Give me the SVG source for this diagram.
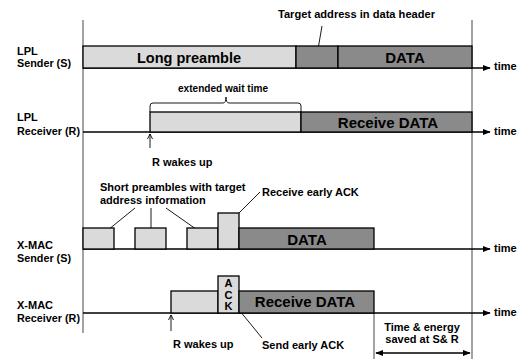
<svg xmlns="http://www.w3.org/2000/svg" width="525" height="359" viewBox="0 0 525 359">
<defs>
<marker id="ah" viewBox="0 0 10 10" refX="9" refY="5" markerWidth="6" markerHeight="6" orient="auto-start-reverse"><path d="M0,1 L10,5 L0,9 Z" fill="#000"/></marker>
<marker id="oa" viewBox="0 0 10 10" refX="9" refY="5" markerWidth="7" markerHeight="7" orient="auto-start-reverse"><path d="M1,1 L9,5 L1,9" fill="none" stroke="#000" stroke-width="1.4"/></marker>
</defs>
<style>
text{font-family:"Liberation Sans",Arial,sans-serif;font-weight:bold;fill:#000}
.lbl{font-size:11px}
.sm{font-size:11px}
.big{font-size:15px}
.mid{font-size:15px}
.light{fill:#dadada;stroke:#000;stroke-width:1.3}
.dark{fill:#8a8a8a;stroke:#000;stroke-width:1.3}
.ax{stroke:#000;stroke-width:1.3;fill:none}
.ptr{stroke:#000;stroke-width:0.9;fill:none}
.vl{stroke:#666;stroke-width:1.2}
</style>
<rect width="525" height="359" fill="#fff"/>
<line class="vl" x1="83" y1="20" x2="83" y2="333"/>
<line class="vl" x1="472" y1="20" x2="472" y2="359"/>
<line class="vl" x1="374" y1="313" x2="374" y2="359"/>

<g id="labels">
<text class="lbl" x="17" y="55">LPL</text>
<text class="lbl" x="17" y="67" textLength="54" lengthAdjust="spacingAndGlyphs">Sender (S)</text>
<text class="lbl" x="17" y="121">LPL</text>
<text class="lbl" x="17" y="135" textLength="63" lengthAdjust="spacingAndGlyphs">Receiver (R)</text>
<text class="lbl" x="17" y="249">X-MAC</text>
<text class="lbl" x="17" y="262" textLength="54" lengthAdjust="spacingAndGlyphs">Sender (S)</text>
<text class="lbl" x="17" y="309">X-MAC</text>
<text class="lbl" x="17" y="322" textLength="63" lengthAdjust="spacingAndGlyphs">Receiver (R)</text>
</g>

<g id="connectors">
<line class="ax" x1="83" y1="68" x2="490" y2="68" marker-end="url(#ah)"/>
<line class="ax" x1="83" y1="132" x2="490" y2="132" marker-end="url(#ah)"/>
<line class="ax" x1="83" y1="249" x2="490" y2="249" marker-end="url(#ah)"/>
<line class="ax" x1="83" y1="313" x2="490" y2="313" marker-end="url(#ah)"/>
<line class="ptr" x1="322" y1="26" x2="317" y2="55"/>
<line class="ptr" x1="135" y1="208" x2="103" y2="234"/>
<line class="ptr" x1="151" y1="208" x2="151" y2="239"/>
<line class="ptr" x1="166" y1="208" x2="203" y2="234"/>
<line class="ptr" x1="260" y1="192" x2="230" y2="222"/>
<line class="ptr" x1="235" y1="305" x2="262" y2="338"/>
<line class="ptr" x1="150" y1="148" x2="150" y2="134" marker-end="url(#oa)"/>
<line class="ptr" x1="171" y1="331" x2="171" y2="315" marker-end="url(#oa)"/>
<line class="ax" x1="376" y1="353" x2="470" y2="353" marker-start="url(#ah)" marker-end="url(#ah)"/>
<path class="ptr" d="M150,112 V106 Q150,103 153,103 H223 Q226,103 226,97 Q226,103 229,103 H298 Q301,103 301,106 V112" stroke-width="1.1"/>
</g>

<g id="lpl-sender">
<rect class="light" x="83" y="46" width="213" height="22"/>
<rect class="dark" x="296" y="46" width="42" height="22"/>
<rect class="dark" x="338" y="46" width="134" height="22"/>
<text class="big" x="137" y="63" textLength="104" lengthAdjust="spacingAndGlyphs">Long preamble</text>
<text class="mid" x="405" y="63" text-anchor="middle">DATA</text>
<text class="sm" x="278" y="18" textLength="157" lengthAdjust="spacingAndGlyphs">Target address in data header</text>
<text class="lbl" x="494" y="70">time</text>
</g>

<g id="lpl-receiver">
<rect class="light" x="150" y="112" width="151" height="20"/>
<rect class="dark" x="301" y="112" width="171" height="20"/>
<text class="mid" x="388" y="128" text-anchor="middle">Receive DATA</text>
<text class="sm" x="178" y="92" textLength="90" lengthAdjust="spacingAndGlyphs">extended wait time</text>
<text class="sm" x="152" y="166">R wakes up</text>
<text class="lbl" x="494" y="135">time</text>
</g>

<g id="xmac-sender">
<rect class="light" x="83" y="228" width="31" height="21"/>
<rect class="light" x="135" y="228" width="31" height="21"/>
<rect class="light" x="187" y="228" width="31" height="21"/>
<rect class="light" x="218" y="213" width="21" height="36"/>
<rect class="dark" x="239" y="228" width="135" height="21"/>
<text class="mid" x="307" y="245" text-anchor="middle">DATA</text>
<text class="sm" x="100" y="191">Short preambles with target</text>
<text class="sm" x="100" y="204">address information</text>
<text class="sm" x="262" y="196">Receive early ACK</text>
<text class="lbl" x="494" y="252">time</text>
</g>

<g id="xmac-receiver">
<rect class="light" x="171" y="291" width="47" height="22"/>
<rect class="light" x="218" y="276" width="21" height="37"/>
<rect class="dark" x="239" y="291" width="135" height="22"/>
<text class="sm" x="228.5" y="287" text-anchor="middle">A</text>
<text class="sm" x="228.5" y="299" text-anchor="middle">C</text>
<text class="sm" x="228.5" y="310" text-anchor="middle">K</text>
<text class="mid" x="305" y="307" text-anchor="middle">Receive DATA</text>
<text class="sm" x="173" y="348">R wakes up</text>
<text class="sm" x="262" y="349">Send early ACK</text>
<text class="sm" x="422" y="331" text-anchor="middle">Time &amp; energy</text>
<text class="sm" x="422" y="343" text-anchor="middle">saved at S&amp; R</text>
<text class="lbl" x="494" y="316">time</text>
</g>
</svg>
